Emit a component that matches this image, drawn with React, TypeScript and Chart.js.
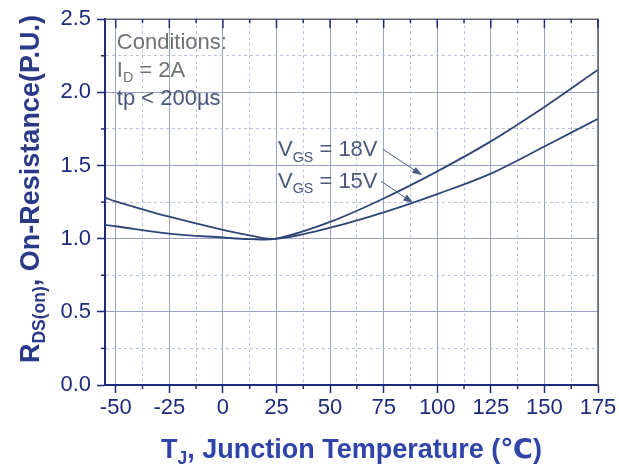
import React, { useEffect, useRef } from 'react';
import { Chart, registerables } from 'chart.js';

Chart.register(...registerables);

// ---- data ----
const TEMP_C = [-55, -50, -25, 0, 12.5, 25, 50, 75, 100, 125, 150, 175];
const RDS_18V = [1.094, 1.085, 1.035, 1.008, 0.997, 1.0, 1.115, 1.275, 1.46, 1.665, 1.9, 2.155];
const RDS_15V = [1.28, 1.255, 1.15, 1.06, 1.022, 1.0, 1.075, 1.18, 1.305, 1.445, 1.63, 1.82];
const X_TICKS = [-50, -25, 0, 25, 50, 75, 100, 125, 150, 175];
const Y_TICKS = [0, 0.5, 1.0, 1.5, 2.0, 2.5];
const X_RANGE = [-55, 175];
const Y_RANGE = [0, 2.5];
const SERIES_VGS = ['18V', '15V'];
const CONDITIONS = ['Conditions:', '2A', 'tp < 200µs'];

const FONT = '"Liberation Sans", Arial, "DejaVu Sans", sans-serif';
const NAVY = '#1e2a7c';
const CURVE = '#2e4677';
const TEXT_GRAY = '#6f7173';
const LABEL_BLUE = '#48597a';

type Part = { t: string; sub?: boolean };

function withMinors(major: number[]) {
  const out: number[] = [];
  major.forEach((v, i) => {
    out.push(v);
    if (i < major.length - 1) out.push((v + major[i + 1]) / 2);
  });
  return out;
}

function isMajor(list: number[], v: number) {
  return list.some((m) => Math.abs(m - v) < 1e-9);
}

function richWidth(ctx: CanvasRenderingContext2D, parts: Part[], size: number, weight: string) {
  let w = 0;
  for (const p of parts) {
    ctx.font = `${weight} ${p.sub ? size * 0.65 : size}px ${FONT}`;
    w += ctx.measureText(p.t).width;
  }
  return w;
}

function drawRich(
  ctx: CanvasRenderingContext2D,
  parts: Part[],
  x: number,
  y: number,
  size: number,
  weight: string,
  color: string
) {
  ctx.fillStyle = color;
  ctx.textAlign = 'left';
  ctx.textBaseline = 'alphabetic';
  let cx = x;
  for (const p of parts) {
    const s = p.sub ? size * 0.65 : size;
    ctx.font = `${weight} ${s}px ${FONT}`;
    ctx.fillText(p.t, cx, p.sub ? y + size * 0.24 : y);
    cx += ctx.measureText(p.t).width;
  }
}

function drawArrow(ctx: CanvasRenderingContext2D, x1: number, y1: number, x2: number, y2: number, color: string) {
  const ang = Math.atan2(y2 - y1, x2 - x1);
  const len = 10;
  const half = 3.5;
  ctx.strokeStyle = color;
  ctx.fillStyle = color;
  ctx.lineWidth = 1;
  ctx.beginPath();
  ctx.moveTo(x1, y1);
  ctx.lineTo(x2 - Math.cos(ang) * len * 0.8, y2 - Math.sin(ang) * len * 0.8);
  ctx.stroke();
  ctx.beginPath();
  ctx.moveTo(x2, y2);
  ctx.lineTo(x2 - Math.cos(ang) * len + Math.sin(ang) * half, y2 - Math.sin(ang) * len - Math.cos(ang) * half);
  ctx.lineTo(x2 - Math.cos(ang) * len - Math.sin(ang) * half, y2 - Math.sin(ang) * len + Math.cos(ang) * half);
  ctx.closePath();
  ctx.fill();
}

const decorPlugin = {
  id: 'decor',
  afterDraw(chart: any) {
    const ctx: CanvasRenderingContext2D = chart.ctx;
    const ca = chart.chartArea;
    const xs = chart.scales.x;
    const ys = chart.scales.y;
    const X = (v: number) => xs.getPixelForValue(v);
    const Y = (v: number) => ys.getPixelForValue(v);
    ctx.save();

    // frame (top and right)
    ctx.strokeStyle = '#5c6070';
    ctx.lineWidth = 1.5;
    ctx.beginPath();
    ctx.moveTo(ca.left, ca.top);
    ctx.lineTo(ca.right, ca.top);
    ctx.lineTo(ca.right, ca.bottom);
    ctx.stroke();

    // minor ticks outward and top ticks inward
    ctx.strokeStyle = NAVY;
    ctx.lineWidth = 1.5;
    for (const v of withMinors(X_TICKS)) {
      const px = X(v);
      const major = isMajor(X_TICKS, v);
      ctx.beginPath();
      if (!major) {
        ctx.moveTo(px, ca.bottom);
        ctx.lineTo(px, ca.bottom + 4);
      }
      ctx.moveTo(px, ca.top);
      ctx.lineTo(px, ca.top + (major ? 9 : 4));
      ctx.stroke();
    }
    for (const v of withMinors(Y_TICKS)) {
      if (isMajor(Y_TICKS, v)) continue;
      const py = Y(v);
      ctx.beginPath();
      ctx.moveTo(ca.left - 4, py);
      ctx.lineTo(ca.left, py);
      ctx.stroke();
    }

    // y-axis title (rotated)
    const yTitle: Part[] = [{ t: 'R' }, { t: 'DS(on)', sub: true }, { t: ', On-Resistance(P.U.)' }];
    const ySize = 27;
    const yw = richWidth(ctx, yTitle, ySize, 'bold');
    ctx.save();
    ctx.translate(39, (ca.top + ca.bottom) / 2 - 13 + yw / 2);
    ctx.rotate(-Math.PI / 2);
    drawRich(ctx, yTitle, 0, 0, ySize, 'bold', '#2a3a86');
    ctx.restore();

    // x-axis title
    const xTitle: Part[] = [{ t: 'T' }, { t: 'J', sub: true }, { t: ', Junction Temperature (℃)' }];
    const xw = richWidth(ctx, xTitle, 27, 'bold');
    drawRich(ctx, xTitle, (ca.left + ca.right) / 2 - xw / 2, 458, 27, 'bold', '#2f43a8');

    // conditions block
    const cx = X(-49.5);
    drawRich(ctx, [{ t: CONDITIONS[0] }], cx, Y(2.296), 22, 'normal', TEXT_GRAY);
    drawRich(ctx, [{ t: 'I' }, { t: 'D', sub: true }, { t: ' = ' + CONDITIONS[1] }], cx, Y(2.106), 22, 'normal', TEXT_GRAY);
    drawRich(ctx, [{ t: CONDITIONS[2] }], cx, Y(1.916), 22, 'normal', LABEL_BLUE);

    // series labels with arrows
    const lx = X(25.7);
    drawRich(ctx, [{ t: 'V' }, { t: 'GS', sub: true }, { t: ' = ' + SERIES_VGS[0] }], lx, Y(1.5625), 22, 'normal', LABEL_BLUE);
    drawRich(ctx, [{ t: 'V' }, { t: 'GS', sub: true }, { t: ' = ' + SERIES_VGS[1] }], lx, Y(1.345), 22, 'normal', LABEL_BLUE);
    drawArrow(ctx, X(74.8), Y(1.61), X(93), Y(1.433), '#4a5b80');
    drawArrow(ctx, X(73.8), Y(1.393), X(88.8), Y(1.243), '#4a5b80');

    ctx.restore();
  },
};

export default function App() {
  const ref = useRef<HTMLCanvasElement | null>(null);

  useEffect(() => {
    if (!ref.current) return;
    const xAll = withMinors(X_TICKS);
    const yAll = withMinors(Y_TICKS);
    const chart = new Chart(ref.current, {
      type: 'line',
      data: {
        datasets: [
          {
            label: 'VGS = 18V',
            data: TEMP_C.map((t, i) => ({ x: t, y: RDS_18V[i] })),
            borderColor: CURVE,
            borderWidth: 1.8,
            pointRadius: 0,
            tension: 0.35,
            fill: false,
          },
          {
            label: 'VGS = 15V',
            data: TEMP_C.map((t, i) => ({ x: t, y: RDS_15V[i] })),
            borderColor: CURVE,
            borderWidth: 1.8,
            pointRadius: 0,
            tension: 0.35,
            fill: false,
          },
        ],
      },
      options: {
        animation: false,
        responsive: false,
        maintainAspectRatio: false,
        devicePixelRatio: 1,
        layout: { padding: { left: 0, right: 21, top: 17, bottom: 0 } },
        plugins: { legend: { display: false }, tooltip: { enabled: false }, title: { display: false } },
        scales: {
          x: {
            type: 'linear',
            min: X_RANGE[0],
            max: X_RANGE[1],
            afterBuildTicks: (s: any) => {
              s.ticks = xAll.map((v) => ({ value: v }));
            },
            afterFit: (s: any) => {
              s.height = 87;
            },
            ticks: {
              autoSkip: false,
              maxRotation: 0,
              padding: 2,
              color: NAVY,
              font: { family: FONT, size: 22 },
              callback: (v: any) => (isMajor(X_TICKS, Number(v)) ? String(v) : ''),
            },
            grid: {
              color: (c: any) => (c.tick && isMajor(X_TICKS, c.tick.value) ? '#9aa3c6' : '#b9c1dc'),
              lineWidth: 1,
              tickLength: 8,
              tickWidth: 1.5,
              tickColor: (c: any) => (c.tick && isMajor(X_TICKS, c.tick.value) ? NAVY : 'rgba(0,0,0,0)'),
            },
            border: {
              color: NAVY,
              width: 2,
              dash: (c: any) => (c.tick && !isMajor(X_TICKS, c.tick.value) ? [3, 3] : []),
            },
          },
          y: {
            type: 'linear',
            min: Y_RANGE[0],
            max: Y_RANGE[1],
            afterBuildTicks: (s: any) => {
              s.ticks = yAll.map((v) => ({ value: v }));
            },
            afterFit: (s: any) => {
              s.width = 105;
            },
            ticks: {
              autoSkip: false,
              padding: 6,
              color: NAVY,
              font: { family: FONT, size: 22 },
              callback: (v: any) => (isMajor(Y_TICKS, Number(v)) ? Number(v).toFixed(1) : ''),
            },
            grid: {
              color: (c: any) => (c.tick && isMajor(Y_TICKS, c.tick.value) ? '#9aa3c6' : '#b9c1dc'),
              lineWidth: 1,
              tickLength: 8,
              tickWidth: 1.5,
              tickColor: (c: any) => (c.tick && isMajor(Y_TICKS, c.tick.value) ? NAVY : 'rgba(0,0,0,0)'),
            },
            border: {
              color: NAVY,
              width: 2,
              dash: (c: any) => (c.tick && !isMajor(Y_TICKS, c.tick.value) ? [3, 3] : []),
            },
          },
        },
      } as any,
      plugins: [decorPlugin],
    });
    return () => chart.destroy();
  }, []);

  return (
    <div style={{ position: 'fixed', left: 0, top: 0, width: 619, height: 472, background: '#ffffff' }}>
      <canvas ref={ref} width={619} height={472} style={{ display: 'block', width: 619, height: 472 }} />
    </div>
  );
}
